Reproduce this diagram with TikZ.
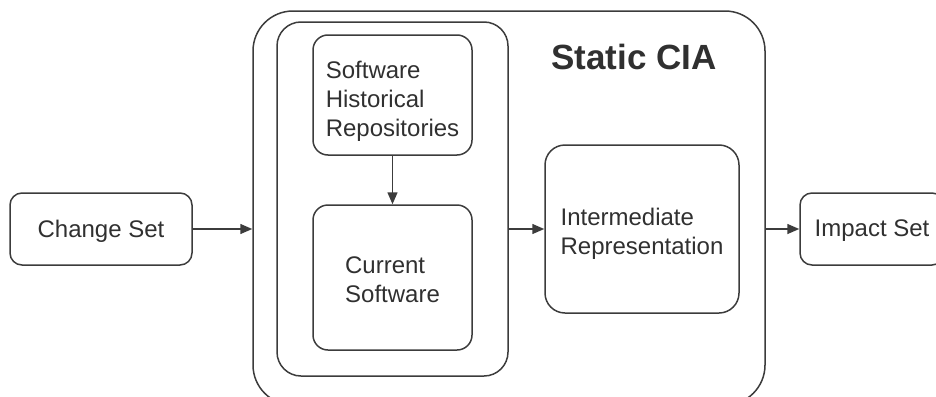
\documentclass[tikz,border=0pt]{standalone}
\usepackage{fontspec}
\setmainfont{Liberation Sans}
\usepackage{tikz}
\usetikzlibrary{arrows.meta, positioning, calc}
\usepackage{xcolor}
\definecolor{linegray}{HTML}{3C3C3C}
\definecolor{textgray}{HTML}{303030}

\begin{document}
\begin{tikzpicture}[x=0.5pt, y=-0.5pt, thick, >={Triangle[length=6pt, width=5pt]}]
		
		% Define block styles
		\tikzstyle{box} = [rectangle, draw=linegray, line width=0.75pt, text=textgray, font=\fontsize{12}{14.5}\selectfont, align=left, inner sep=0pt]
		\tikzstyle{frame} = [rectangle, draw=linegray, line width=0.75pt, inner sep=0pt]
		\tikzstyle{link} = [->, draw=linegray, line width=0.75pt]
		
		\useasboundingbox (0,0) rectangle (936,396);
		
		% Frames
		\node[frame, rounded corners=20pt, minimum width=256pt, minimum height=197pt] (outer) at (509,208) {};
		\node[frame, rounded corners=12pt, minimum width=115.5pt, minimum height=177pt] (inner) at (392.5,199) {};
		
		% Nodes
		\node[box, rounded corners=6pt, minimum width=91pt, minimum height=36pt, align=center, text height=10.8pt] (change) at (101,229) {Change Set};
		\node[box, rounded corners=7.5pt, minimum width=79.5pt, minimum height=60pt, text height=43.5pt] (history) at (392.5,95) {Software\\Historical\\Repositories};
		\node[box, rounded corners=7.5pt, minimum width=79.5pt, minimum height=72.5pt, text height=25.3pt] (current) at (392.5,277.5) {Current\\Software};
		\node[box, rounded corners=10pt, minimum width=97pt, minimum height=84pt, text height=27.8pt] (inter) at (642,229) {Intermediate\\Representation};
		\node[box, rounded corners=6pt, minimum width=72pt, minimum height=36pt, align=center, text height=9.8pt] (impact) at (872,229) {Impact Set};
		
		% Labels
		\node[text=textgray, font=\fontsize{17.5}{20}\selectfont\bfseries] (title) at (634,57) {Static CIA};
		
		% Arrows
		\draw[link] (change.east) -- (change.east -| outer.west);
		\draw[link] (history.south -| current.north) -- (current.north);
		\draw[link] (inner.east |- inter.west) -- (inter.west);
		\draw[link] (outer.east |- impact.west) -- (impact.west);
		
	\end{tikzpicture}
\end{document}
